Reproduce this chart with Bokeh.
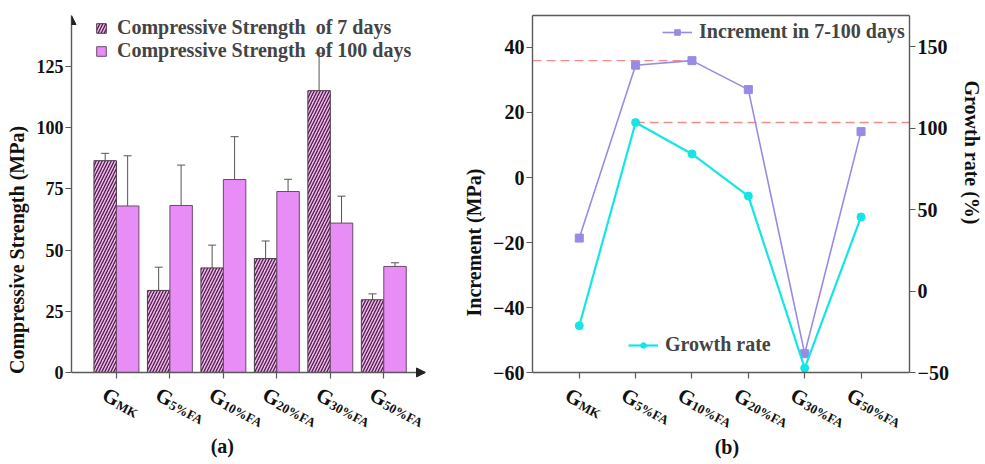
from bokeh.plotting import figure
from bokeh.models import (ColumnDataSource, Range1d, LinearAxis, FixedTicker, Whisker, TeeHead,
                          Arrow, NormalHead, Legend, LegendItem)
from bokeh.core.properties import value
from bokeh.layouts import row
from bokeh.transform import dodge
from bokeh.embed import file_html
from bokeh.resources import INLINE

# ---------------- data ----------------
categories_sub = ["MK", "5%FA", "10%FA", "20%FA", "30%FA", "50%FA"]
strength_7d = [86.5, 33.5, 42.7, 46.5, 115.1, 29.7]
err_7d = [3.0, 9.5, 9.3, 7.2, 15.3, 2.4]
strength_100d = [68.0, 68.2, 78.8, 73.9, 61.0, 43.3]
err_100d = [20.5, 16.5, 17.5, 5.0, 11.0, 1.5]
increment = [-18.6, 34.5, 35.9, 27.0, -54.1, 14.1]
growth_rate = [-21.1, 103.5, 84.2, 58.4, -47.1, 45.6]
y_ticks_a = [0, 25, 50, 75, 100, 125]
y_ticks_b = [-60, -40, -20, 0, 20, 40]
y_ticks_b2 = [-50, 0, 50, 100, 150]
legend_a = ["Compressive Strength  of 7 days", "Compressive Strength  of 100 days"]
legend_b = ["Increment in 7-100 days", "Growth rate"]
axis_labels = ["Compressive Strength  (MPa)", "Increment  (MPa)", "Growth rate  (%)"]
captions = ["(a)", "(b)"]

FONT = "Liberation Serif"
AX = "#5a5a5a"
HATCH_BG = "#f4b8f1"
HATCH_FG = "#4a2044"
SOLID = "#e88cf6"
PURPLE = "#978be6"
CYAN = "#14e6e6"
RED = "#f58a8a"
NBSP = "\u00a0"

idx = list(range(len(categories_sub)))


def style_axis(ax, size="19px"):
    ax.axis_line_color = AX
    ax.axis_line_width = 1.4
    ax.major_tick_line_color = AX
    ax.major_tick_line_width = 1.2
    ax.major_tick_out = 6
    ax.major_tick_in = 0
    ax.minor_tick_line_color = None
    ax.major_label_text_font = FONT
    ax.major_label_text_font_style = "bold"
    ax.major_label_text_font_size = size
    ax.major_label_text_color = "#111111"
    ax.axis_label_text_font = FONT
    ax.axis_label_text_font_style = "bold"
    ax.axis_label_text_font_size = "20px"
    ax.axis_label_text_color = "#111111"


def add_cat_labels(p, yaxis_loc, cap_x, cap_text):
    lab = ColumnDataSource(dict(x=idx, y=[yaxis_loc] * len(idx), g=["G"] * len(idx), sub=categories_sub))
    p.text(x="x", y="y", text="g", source=lab, x_offset=-7, y_offset=10, angle=-0.48,
           text_font=value(FONT), text_font_style="bold", text_font_size="21px",
           text_baseline="top", text_align="left", text_color="#111111")
    p.text(x="x", y="y", text="sub", source=lab, x_offset=4, y_offset=25, angle=-0.48,
           text_font=value(FONT), text_font_style="bold", text_font_size="13px",
           text_baseline="top", text_align="left", text_color="#111111")
    p.text(x=[cap_x], y=[yaxis_loc], text=[cap_text], y_offset=74, text_align="center",
           text_baseline="middle", text_font=value(FONT), text_font_style="bold",
           text_font_size="20px", text_color="#111111")


# ---------------- panel (a) ----------------
xa0, xa1 = -0.84, 5.78
ya0 = 0
ya_bottom, ya_top = -37.6, 145.8
p1 = figure(width=460, height=464, x_range=Range1d(xa0, xa1), y_range=Range1d(ya_bottom, ya_top),
            output_backend="svg", toolbar_location=None, title=None,
            min_border_left=71, min_border_right=35, min_border_top=15, min_border_bottom=0)
p1.outline_line_color = None
p1.grid.visible = False
p1.background_fill_color = "white"
p1.border_fill_color = "white"

src = ColumnDataSource(dict(
    x=idx, s7=strength_7d, s100=strength_100d,
    u7=[v + e for v, e in zip(strength_7d, err_7d)], l7=[v - e for v, e in zip(strength_7d, err_7d)],
    u100=[v + e for v, e in zip(strength_100d, err_100d)], l100=[v - e for v, e in zip(strength_100d, err_100d)],
))

bw = 0.42
r7 = p1.vbar(x=dodge("x", -bw / 2, range=p1.x_range), top="s7", width=bw, bottom=ya0, source=src,
             fill_color=HATCH_BG, hatch_pattern="/", hatch_color=HATCH_FG, hatch_scale=6,
             hatch_weight=1.3, line_color="#4a3a4a", line_width=1)
r100 = p1.vbar(x=dodge("x", bw / 2, range=p1.x_range), top="s100", width=bw, bottom=ya0, source=src,
               fill_color=SOLID, line_color="#6a4a6a", line_width=1)

for off, up, lo in [(-bw / 2, "u7", "l7"), (bw / 2, "u100", "l100")]:
    p1.add_layout(Whisker(base=dodge("x", off, range=p1.x_range), upper=up, lower=lo, source=src,
                          line_color="#555555", line_width=1,
                          upper_head=TeeHead(size=8, line_color="#555555", line_width=1),
                          lower_head=TeeHead(size=8, line_color="#555555", line_width=1)))

p1.xaxis.ticker = FixedTicker(ticks=idx)
p1.xaxis.fixed_location = ya0
p1.yaxis.ticker = FixedTicker(ticks=y_ticks_a)
p1.yaxis.bounds = (ya0, ya_top)
style_axis(p1.xaxis[0], "18px")
style_axis(p1.yaxis[0], "18px")
p1.xaxis.major_label_text_color = None
p1.yaxis.major_label_standoff = 2
p1.yaxis.axis_label = axis_labels[0] + NBSP * 3
p1.yaxis.axis_label_standoff = 6

p1.add_layout(Arrow(end=NormalHead(size=9, fill_color="#222222", line_color="#222222"),
                    x_start=xa0, y_start=ya0, x_end=xa0, y_end=ya_top, line_alpha=0))
p1.add_layout(Arrow(end=NormalHead(size=9, fill_color="#222222", line_color="#222222"),
                    x_start=xa0, y_start=ya0, x_end=xa1, y_end=ya0, line_alpha=0))

leg1 = Legend(items=[LegendItem(label=legend_a[0], renderers=[r7]),
                     LegendItem(label=legend_a[1], renderers=[r100])],
              location=(24, 402), glyph_width=12, glyph_height=12, label_height=23,
              label_standoff=10, spacing=0, padding=0, margin=0,
              label_text_font=FONT, label_text_font_style="bold", label_text_font_size="20px",
              background_fill_alpha=0, border_line_alpha=0)
p1.add_layout(leg1)
add_cat_labels(p1, ya0, 1.98, captions[0])

# ---------------- panel (b) ----------------
xb0, xb1 = -0.83, 5.86
yb0, yb1 = -60, 49.76
yb_bottom = -88.14
rb0, rb1 = -50, 169.1
rb_bottom = -106.2
p2 = figure(width=525, height=464, x_range=Range1d(xb0, xb1), y_range=Range1d(yb_bottom, yb1),
            output_backend="svg", toolbar_location=None, title=None,
            min_border_left=71, min_border_right=64, min_border_top=12, min_border_bottom=0)
p2.grid.visible = False
p2.outline_line_color = None
p2.background_fill_color = "white"
p2.border_fill_color = "white"
p2.extra_y_ranges = {"rate": Range1d(rb_bottom, rb1)}
p2.add_layout(LinearAxis(y_range_name="rate", ticker=FixedTicker(ticks=y_ticks_b2),
                         bounds=(rb0, rb1), axis_label=axis_labels[2] + NBSP * 34), "right")
top_axis = LinearAxis(ticker=FixedTicker(ticks=[]), major_tick_out=0, major_tick_in=0,
                      major_label_text_color=None, axis_line_color=AX, axis_line_width=1.4,
                      minor_tick_line_color=None, major_label_standoff=0)
p2.add_layout(top_axis, "above")

p2.below[0].ticker = FixedTicker(ticks=idx)
p2.yaxis[0].ticker = FixedTicker(ticks=y_ticks_b)
p2.yaxis[0].bounds = (yb0, yb1)
for ax in [p2.below[0]] + p2.yaxis:
    style_axis(ax, "20px")
p2.below[0].fixed_location = yb0
p2.below[0].major_label_text_color = None
p2.yaxis[0].axis_label = axis_labels[1]
p2.yaxis.major_label_standoff = 2
p2.yaxis[0].axis_label_standoff = 5
p2.yaxis[1].axis_label_standoff = 9

imax = increment.index(max(increment))
gmax = growth_rate.index(max(growth_rate))
p2.segment(x0=[xb0], y0=[increment[imax]], x1=[idx[imax]], y1=[increment[imax]],
           line_color=RED, line_dash="9 5", line_width=1.3)
p2.segment(x0=[idx[gmax]], y0=[growth_rate[gmax]], x1=[xb1], y1=[growth_rate[gmax]],
           line_color=RED, line_dash="9 5", line_width=1.3, y_range_name="rate")

l_inc = p2.line(idx, increment, line_color=PURPLE, line_width=1.6)
m_inc = p2.scatter(idx, increment, marker="square", size=8, fill_color=PURPLE, line_color=PURPLE)
l_gr = p2.line(idx, growth_rate, line_color=CYAN, line_width=2.2, y_range_name="rate")
m_gr = p2.scatter(idx, growth_rate, marker="circle", size=8, fill_color=CYAN, line_color=CYAN,
                  y_range_name="rate")

common = dict(glyph_width=30, glyph_height=14, label_height=23, label_standoff=7, padding=0,
              margin=0, label_text_font=FONT, label_text_font_style="bold",
              label_text_font_size="20px", background_fill_alpha=0, border_line_alpha=0)
p2.add_layout(Legend(items=[LegendItem(label=legend_b[0], renderers=[l_inc, m_inc])],
                     location=(130, 421), **common))
p2.add_layout(Legend(items=[LegendItem(label=legend_b[1], renderers=[l_gr, m_gr])],
                     location=(96, 108), **common))
add_cat_labels(p2, yb0, 2.62, captions[1])

layout = row(p1, p2)
open("out.html", "w").write(file_html(layout, INLINE))
